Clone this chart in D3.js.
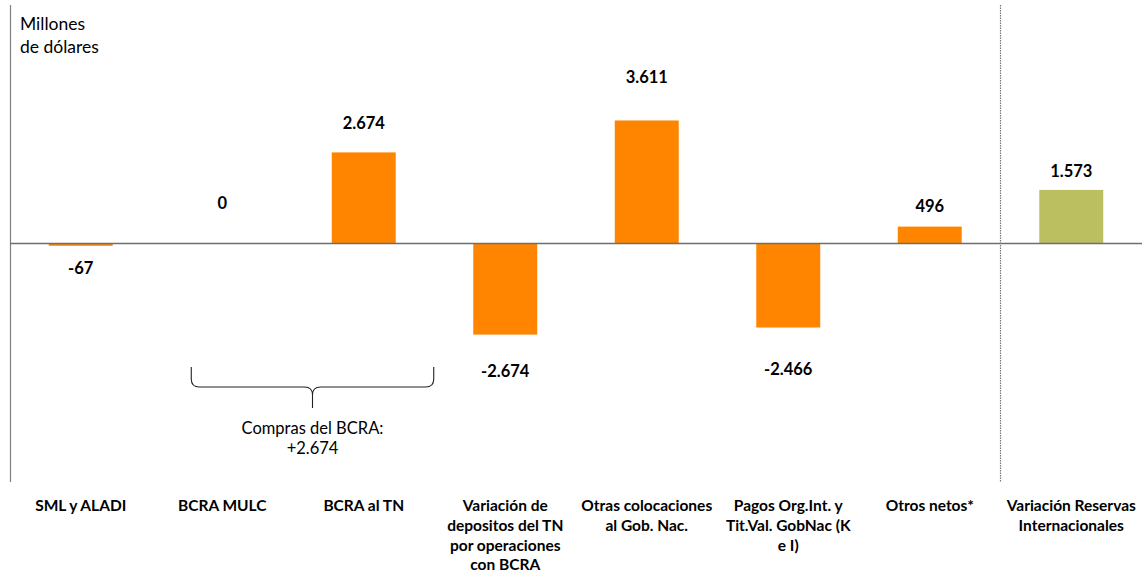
<!DOCTYPE html>
<html lang="es">
<head>
<meta charset="utf-8">
<script src="https://cdn.jsdelivr.net/npm/d3@7"></script>
<style>
  html, body { margin: 0; padding: 0; background: #fff; }
  svg { display: block; }
  text { font-family: Lato, "Open Sans", sans-serif; fill: #000; }
</style>
</head>
<body>
<svg id="chart" width="1148" height="579"></svg>
<script>
// Factores de variación de las reservas internacionales (millones de US$)
const categories = [
  "SML y ALADI",
  "BCRA MULC",
  "BCRA al TN",
  "Variación de depositos del TN por operaciones con BCRA",
  "Otras colocaciones al Gob. Nac.",
  "Pagos Org.Int. y Tit.Val. GobNac (K e I)",
  "Otros netos*",
  "Variación Reservas Internacionales"
];
const categoryLines = [
  ["SML y ALADI"],
  ["BCRA MULC"],
  ["BCRA al TN"],
  ["Variación de", "depositos del TN", "por operaciones", "con BCRA"],
  ["Otras colocaciones", "al Gob. Nac."],
  ["Pagos Org.Int. y", "Tit.Val. GobNac (K", "e I)"],
  ["Otros netos*"],
  ["Variación Reservas", "Internacionales"]
];
const values = [-67, 0, 2674, -2674, 3611, -2466, 496, 1573];
const isTotal = [false, false, false, false, false, false, false, true];
const unitLabel = ["Millones", "de dólares"];
const bracketTitle = "Compras del BCRA:";
const bracketMembers = ["BCRA MULC", "BCRA al TN"];

// layout: vertical offset of each value label from its bar end
const labelDy = [28, -35, -23, 42, -37, 47.5, -15, -13];

const colors = { bar: "#FF8500", total: "#BBBF5F", axis: "#808080" };

const locale = d3.formatLocale({ decimal: ",", thousands: ".", grouping: [3], currency: ["$", ""], minus: "-" });
const fmt = locale.format(",d");
const fmtSigned = locale.format("+,d");

const svg = d3.select("#chart");

const x = d3.scaleBand()
  .domain(categories)
  .range([10, 1142])
  .paddingInner(0.548)
  .paddingOuter(0.274);

const y = d3.scaleLinear()
  .domain([-7000, 7000])
  .range([482, 5]);

const bw = x.bandwidth();
const cx = c => x(c) + bw / 2;

// bars
svg.append("g")
  .selectAll("rect")
  .data(values)
  .join("rect")
  .attr("x", (d, i) => x(categories[i]))
  .attr("width", bw)
  .attr("y", d => y(Math.max(0, d)))
  .attr("height", d => Math.abs(y(d) - y(0)))
  .attr("fill", (d, i) => isTotal[i] ? colors.total : colors.bar);

// vertical axis (no ticks)
svg.append("line")
  .attr("x1", 10.5).attr("x2", 10.5)
  .attr("y1", y(7000)).attr("y2", y(-7000))
  .attr("stroke", colors.axis).attr("stroke-width", 1.2);

// zero line
svg.append("line")
  .attr("x1", 10).attr("x2", 1142)
  .attr("y1", y(0)).attr("y2", y(0))
  .attr("stroke", "#6e6e6e").attr("stroke-width", 1.3);

// separator before the total
const sepX = (cx(categories[6]) + cx(categories[7])) / 2;
svg.append("line")
  .attr("x1", sepX).attr("x2", sepX)
  .attr("y1", y(7000)).attr("y2", y(-7000))
  .attr("stroke", "#777").attr("stroke-width", 1.2)
  .attr("stroke-dasharray", "1.5,1");

// value labels
svg.append("g")
  .selectAll("text")
  .data(values)
  .join("text")
  .attr("x", (d, i) => cx(categories[i]))
  .attr("y", (d, i) => y(d) + labelDy[i])
  .attr("text-anchor", "middle")
  .attr("font-weight", 700)
  .attr("font-size", 16.5)
  .text(d => fmt(d));

// category labels
const cat = svg.append("g")
  .selectAll("text")
  .data(categoryLines)
  .join("text")
  .attr("text-anchor", "middle")
  .attr("font-weight", 700)
  .attr("font-size", 15.5)
  .attr("x", (d, i) => cx(categories[i]))
  .attr("y", 511);
cat.selectAll("tspan")
  .data((d, i) => d.map(s => ({ s, i })))
  .join("tspan")
  .attr("x", d => cx(categories[d.i]))
  .attr("dy", (d, j) => j === 0 ? 0 : 19.8)
  .text(d => d.s);

// unit label
svg.append("text")
  .attr("font-size", 17.5)
  .selectAll("tspan")
  .data(unitLabel)
  .join("tspan")
  .attr("x", 20)
  .attr("y", (d, i) => 30 + i * 23)
  .text(d => d);

// brace grouping the central bank purchases
const bxL = x(bracketMembers[0]) + 1;
const bxR = x(bracketMembers[1]) + bw + 38;
const bxM = (bxL + bxR) / 2;
const yTop = 367, yMid = 387, yTip = 408;
const brace = `M${bxL},${yTop} L${bxL},${yMid - 8} Q${bxL},${yMid} ${bxL + 8},${yMid}
  L${bxM - 8},${yMid} Q${bxM},${yMid} ${bxM},${yMid + 8} L${bxM},${yTip}
  M${bxM},${yMid + 8} Q${bxM},${yMid} ${bxM + 8},${yMid}
  L${bxR - 8},${yMid} Q${bxR},${yMid} ${bxR},${yMid - 8} L${bxR},${yTop}`;
svg.append("path")
  .attr("d", brace)
  .attr("fill", "none")
  .attr("stroke", "#222")
  .attr("stroke-width", 1.1);

const purchases = bracketMembers.reduce((s, c) => s + values[categories.indexOf(c)], 0);
svg.append("text")
  .attr("text-anchor", "middle")
  .attr("font-size", 16.5)
  .selectAll("tspan")
  .data([bracketTitle, fmtSigned(purchases)])
  .join("tspan")
  .attr("x", bxM)
  .attr("y", (d, i) => 434 + i * 20)
  .text(d => d);
</script>
</body>
</html>
